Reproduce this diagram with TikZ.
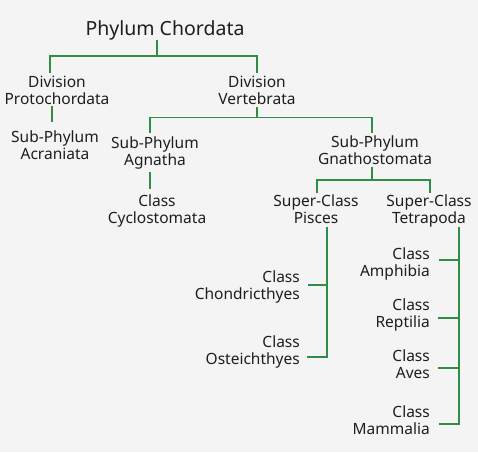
\documentclass[tikz,border=0pt]{standalone}
\usepackage{fontspec}
\setmainfont{Noto Sans}
\definecolor{gline}{HTML}{2F8D46}
\definecolor{bg}{HTML}{F4F4F4}
\definecolor{txt}{HTML}{1E1E1E}
\begin{document}
\begin{tikzpicture}[x=1pt,y=-1pt,
 lbl/.style={inner sep=0pt, align=center, text=txt, font=\fontsize{15.5}{17}\selectfont, execute at begin node=\strut, execute at end node=\strut},
 rlbl/.style={lbl, align=right, anchor=east},
 conn/.style={draw=gline, line width=1.8pt}]
\fill[bg] (0,0) rectangle (478,452);
\useasboundingbox (0,0) rectangle (478,452);
\node[font=\fontsize{19.5}{22}\selectfont, text=txt, inner sep=0pt, anchor=base] (chor) at (165,35) {Phylum Chordata};
\node[lbl] (pro) at (57,93) {Division\\Protochordata};
\node[lbl] (acr) at (55,148) {Sub-Phylum\\Acraniata};
\node[lbl] (ver) at (257,93) {Division\\Vertebrata};
\node[lbl] (agn) at (155,154) {Sub-Phylum\\Agnatha};
\node[lbl] (gna) at (375,153) {Sub-Phylum\\Gnathostomata};
\node[lbl] (cyc) at (157,212) {Class\\Cyclostomata};
\node[lbl] (pis) at (316,212) {Super-Class\\Pisces};
\node[lbl] (tet) at (429,212) {Super-Class\\Tetrapoda};
\node[rlbl] (cho) at (300,287.5) {Class\\Chondricthyes};
\node[rlbl] (ost) at (300,352.5) {Class\\Osteichthyes};
\node[rlbl] (amp) at (430,264.5) {Class\\Amphibia};
\node[rlbl] (rep) at (430,315.5) {Class\\Reptilia};
\node[rlbl] (ave) at (430,366.5) {Class\\Aves};
\node[rlbl] (mam) at (430,422.5) {Class\\Mammalia};
% connectors
\coordinate (j0) at (157,56);
\draw[conn] (chor.south -| j0) -- (j0);
\draw[conn, shorten <=3pt, shorten >=3pt] ([xshift=-7pt]pro.north) |- (j0) -| (ver.north);
\draw[conn] ([xshift=-5pt,yshift=4pt]pro.south) -- ([xshift=-3pt,yshift=9pt]acr.north);
\coordinate (j1) at (257,117.5);
\draw[conn] ([yshift=3pt]ver.south) -- (j1);
\draw[conn, shorten <=4pt, shorten >=3pt] ([xshift=-5pt]agn.north) |- (j1) -| ([xshift=-3pt]gna.north);
\draw[conn, shorten <=1pt, shorten >=6pt] ([xshift=-5pt]agn.south) -- ([xshift=-5pt]agn.south |- cyc.north);
\coordinate (j2) at (372,180);
\draw[conn] ([xshift=-3pt,yshift=3pt]gna.south) -- (j2);
\draw[conn, shorten <=2pt, shorten >=2pt] ([xshift=1pt]pis.north) |- (j2) -| ([xshift=1pt]tet.north);
% Pisces
\coordinate (ptop) at ([xshift=11pt,yshift=2pt]pis.south);
\draw[conn] (ptop) |- ([xshift=7pt,yshift=-4.5pt]ost.east);
\coordinate (chob) at ([xshift=8pt,yshift=2.5pt]cho.east);
\draw[conn] (chob) -- (chob -| ptop);
% Tetrapoda
\coordinate (ttop) at ([xshift=30pt,yshift=2pt]tet.south);
\draw[conn] (ttop) |- ([xshift=9pt,yshift=-1.5pt]mam.east);
\coordinate (ampb) at ([xshift=9pt,yshift=4.5pt]amp.east);
\coordinate (repb) at ([xshift=8pt,yshift=-2.5pt]rep.east);
\coordinate (aveb) at ([xshift=8pt,yshift=-1.5pt]ave.east);
\draw[conn] (ampb) -- (ampb -| ttop);
\draw[conn] (repb) -- (repb -| ttop);
\draw[conn] (aveb) -- (aveb -| ttop);
\end{tikzpicture}
\end{document}
